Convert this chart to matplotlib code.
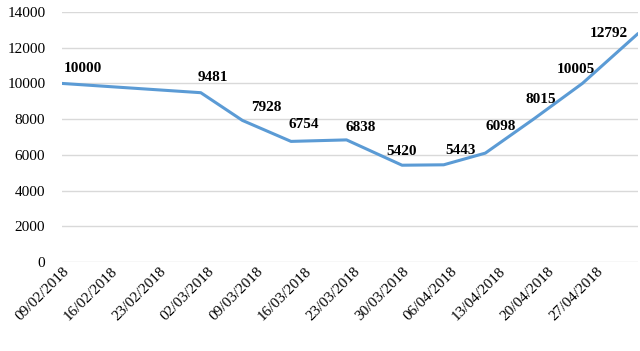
import matplotlib
matplotlib.use("Agg")
import matplotlib.pyplot as plt
import matplotlib.dates as mdates
from datetime import datetime, timedelta

# Datos
fechas = ["09/02/2018", "01/03/2018", "07/03/2018", "14/03/2018", "22/03/2018",
          "30/03/2018", "05/04/2018", "11/04/2018", "18/04/2018", "25/04/2018",
          "03/05/2018"]
valores = [10000, 9481, 7928, 6754, 6838, 5420, 5443, 6098, 8015, 10005, 12792]

# desplazamiento de las etiquetas (en puntos)
desplaz = [(15, 11), (9, 11), (17, 9), (9, 12), (10, 9), (0, 10),
           (12, 10), (11, 19), (5, 14), (-5, 10), (-21, 0)]

x = [datetime.strptime(f, "%d/%m/%Y") for f in fechas]
inicio = x[0]
ticks = [inicio + timedelta(days=7 * i) for i in range(12)]

plt.rcParams["font.family"] = ["Liberation Serif", "DejaVu Serif"]

fig = plt.figure(figsize=(6.4, 3.51), dpi=100)
ax = fig.add_axes([62 / 640, 1 - 262 / 351, (638 - 62) / 640, (262 - 12) / 351])

ax.plot(x, valores, color="#5B9BD5", linewidth=2.2, solid_capstyle="round")

for xi, yi, (dx, dy) in zip(x, valores, desplaz):
    ax.annotate(str(yi), (xi, yi), xytext=(dx, dy), textcoords="offset points",
                ha="center", va="center", fontsize=11, fontweight="bold")

ax.set_ylim(0, 14000)
ax.set_yticks(range(0, 14001, 2000))
ax.set_xlim(x[0], x[-1])
ax.set_xticks(ticks)
ax.xaxis.set_major_formatter(mdates.DateFormatter("%d/%m/%Y"))
plt.setp(ax.get_xticklabels(), rotation=45, ha="right", rotation_mode="anchor",
         fontsize=11.5)

ax.grid(axis="y", color="#D9D9D9", linewidth=1)
ax.set_axisbelow(True)
for s in ax.spines.values():
    s.set_visible(False)
ax.tick_params(length=0, labelsize=11, colors="black")
ax.tick_params(axis="y", pad=12)
ax.tick_params(axis="x", pad=2)

fig.savefig("out.png", dpi=100)
